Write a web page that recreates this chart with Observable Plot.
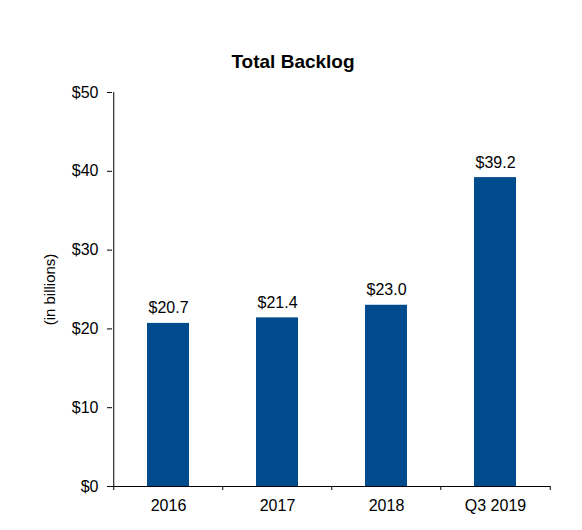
<!DOCTYPE html>
<html><head><meta charset="utf-8">
<script src="https://cdn.jsdelivr.net/npm/d3@7"></script>
<script src="https://cdn.jsdelivr.net/npm/@observablehq/plot@0.6"></script>
<style>
body{margin:0;background:#fff;font-family:"Liberation Sans",Arial,sans-serif;}
#title{height:80px;width:582px;position:relative;}
#title span{position:absolute;left:2px;width:582px;text-align:center;top:52px;font-size:19px;line-height:19px;font-weight:bold;color:#000;}
</style></head>
<body><div id="title"><span></span></div><div id="chart"></div>
<script>
const categories = ["2016", "2017", "2018", "Q3 2019"];
const backlog = [20.7, 21.4, 23.0, 39.2];
const yTicks = [0, 10, 20, 30, 40, 50];
const titleText = "Total Backlog";
const yLabel = "(in billions)";

document.querySelector("#title span").textContent = titleText;
const data = categories.map((c, i) => ({category: c, value: backlog[i]}));

const W = 582, H = 450, mL = 112, mR = 32, mT = 12, mB = 44;
const step = (W - mL - mR) / categories.length;
const yMax = 50;
const tickLen = 4 * yMax / (H - mT - mB); // 4px expressed in y units

const chart = Plot.plot({
  width: W, height: H,
  marginLeft: mL, marginRight: mR, marginTop: mT, marginBottom: mB,
  style: {fontFamily: '"Liberation Sans", Arial, sans-serif', fontSize: "16px", color: "#000", background: "#fff", overflow: "visible"},
  x: {domain: categories, paddingInner: 0.616, paddingOuter: 0.308},
  y: {domain: [0, yMax]},
  marks: [
    Plot.barY(data, {x: "category", y: "value", fill: "#004B8D"}),
    Plot.axisY({ticks: yTicks, tickFormat: d => "$" + d, tickSize: 5, tickPadding: 9, label: null, fontSize: 16, stroke: "#000"}),
    Plot.axisX({tickSize: 0, tickPadding: 13, label: null, fontSize: 16}),
    Plot.ruleY([0], {stroke: "#000"}),
    Plot.ruleX([categories[0]], {x: d => d, y1: 0, y2: yMax, dx: -step / 2, stroke: "#000"}),
    Plot.ruleX(categories, {x: d => d, y1: 0, y2: -tickLen, dx: -step / 2, stroke: "#000"}),
    Plot.ruleX([categories[categories.length - 1]], {x: d => d, y1: 0, y2: -tickLen, dx: step / 2, stroke: "#000"}),
    Plot.text(data, {x: "category", y: "value", text: d => "$" + d.value.toFixed(1), dy: -10, lineAnchor: "bottom", fontSize: 16, fill: "#000"}),
    Plot.text([yLabel], {frameAnchor: "left", rotate: -90, dx: -58, lineAnchor: "bottom", textAnchor: "middle", fontSize: 15, fill: "#000"})
  ]
});
document.getElementById("chart").appendChild(chart);
</script>
</body></html>
